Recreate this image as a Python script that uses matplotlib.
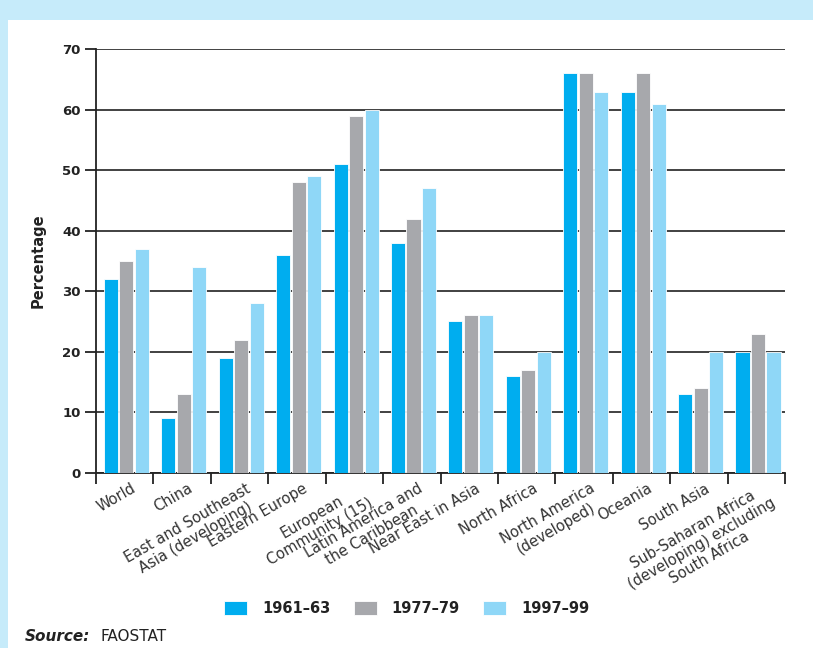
import matplotlib.pyplot as plt
import matplotlib.patches as mpatches
import numpy as np

# regions and shares (percentage)
regions = ["World", "China", "East and Southeast\nAsia (developing)", "Eastern Europe",
           "European\nCommunity (15)", "Latin America and\nthe Caribbean", "Near East in Asia",
           "North Africa", "North America\n(developed)", "Oceania", "South Asia",
           "Sub-Saharan Africa\n(developing) excluding\nSouth Africa"]
y1961 = [32, 9, 19, 36, 51, 38, 25, 16, 66, 63, 13, 20]
y1977 = [35, 13, 22, 48, 59, 42, 26, 17, 66, 66, 14, 23]
y1997 = [37, 34, 28, 49, 60, 47, 26, 20, 63, 61, 20, 20]
series_labels = ["1961\u201363", "1977\u201379", "1997\u201399"]
colors = ["#00adef", "#a7a8ac", "#8fd7f7"]

fig = plt.figure(figsize=(8.13, 6.48), dpi=100, facecolor="#c6ebfa")
# white panel inside the light blue frame
fig.patches.append(mpatches.Rectangle((8 / 813, 0), 1, 1 - 20 / 648, transform=fig.transFigure,
                                      facecolor="white", edgecolor="none", zorder=-10))

ax = fig.add_axes([96 / 813, 1 - 472.7 / 648, (785 - 96) / 813, (472.7 - 49.3) / 648])
ax.set_facecolor("none")

x = np.arange(len(regions))
w = 0.245
offsets = [-0.24, 0.03, 0.30]
for vals, off, c, lab in zip([y1961, y1977, y1997], offsets, colors, series_labels):
    ax.bar(x + off, vals, width=w, color=c, edgecolor="white", linewidth=0.6, label=lab, zorder=3)

ax.set_xlim(-0.5, len(regions) - 0.5)
ax.set_ylim(0, 70)
ax.set_yticks(range(0, 71, 10))
ax.yaxis.grid(True, color="#333333", linewidth=1.3, zorder=1)
ax.set_axisbelow(True)
for s in ["top", "right"]:
    ax.spines[s].set_visible(False)
ax.spines["left"].set_linewidth(1.3)
ax.spines["bottom"].set_linewidth(1.3)
ax.spines["left"].set_color("#222222")
ax.spines["bottom"].set_color("#222222")

ax.tick_params(axis="y", length=8, width=1.3, color="#222222", labelsize=9.5, pad=3,
               labelcolor="#222222")
for t in ax.get_yticklabels():
    t.set_fontweight("bold")

ax.set_xticks(x + 0.1)
ax.set_xticks(np.arange(-0.5, len(regions), 1), minor=True)
ax.tick_params(axis="x", which="major", length=0, pad=6)
ax.tick_params(axis="x", which="minor", length=8, width=1.3, color="#222222")
ax.set_xticklabels(regions, rotation=30, ha="right", rotation_mode="anchor",
                   multialignment="center", fontsize=10.5, color="#333333", linespacing=1.1)

ax.set_ylabel("Percentage", fontsize=10.5, fontweight="bold", color="#222222", labelpad=12)

fig.legend(loc="center", bbox_to_anchor=(0.5, 0.061), ncol=3, frameon=False,
           prop={"weight": "bold", "size": 10.5}, handlelength=1.6, handleheight=1.15,
           handletextpad=1.0, columnspacing=1.6, labelcolor="#222222")

fig.text(25 / 813, 0.017, "Source:", fontsize=11, fontweight="bold", style="italic",
         color="#222222", va="center")
fig.text(100 / 813, 0.017, "FAOSTAT", fontsize=11, color="#222222", va="center")

fig.savefig("out.png", dpi=100, facecolor=fig.get_facecolor())
